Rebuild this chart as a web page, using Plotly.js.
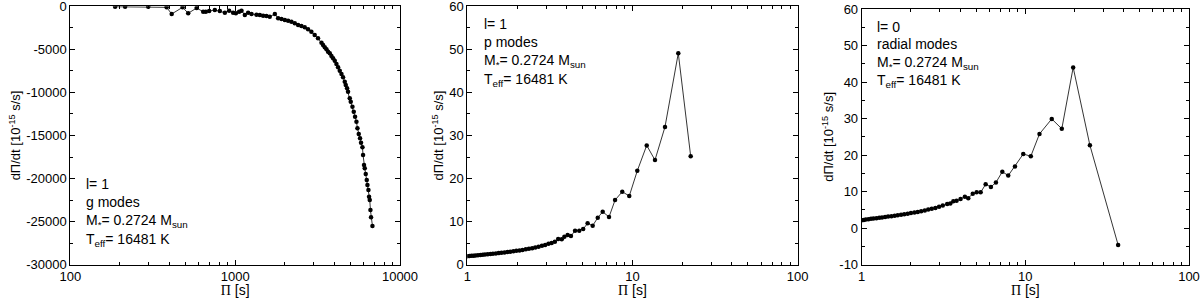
<!DOCTYPE html>
<html><head><meta charset="utf-8">
<script src="https://cdn.plot.ly/plotly-3.0.1.min.js"></script>
<style>html,body{margin:0;padding:0;background:#fff}#chart{width:1200px;height:298px}</style>
</head><body><div id="chart"></div>
<script>
// ---- Data: l=1 g modes ----
const gPeriod=[187,215,297,384,412,480,519,584,640,664,696,753,807,866,919,972,1010,1057,1093,1145,1199,1257,1347,1411,1478,1548,1621,1741,1823,1910,2001,2096,2195,2300,2409,2523,2643,2768,2900,3038,3182,3339,3414,3497,3580,3661,3749,3839,3926,4020,4117,4210,4311,4415,4514,4622,4688,4774,4840,4957,5026,5147,5241,5338,5443,5519,5620,5723,5803,5918,5968,6051,6111,6196,6284,6346,6436,6490,6554,6617,6673,6805];
const gRate=[-50,-50,-50,-120,-890,-120,-810,-200,-630,-630,-550,-430,-550,-740,-510,-740,-810,-630,-510,-1010,-740,-890,-975,-1010,-1090,-1130,-1210,-890,-1390,-1470,-1590,-1670,-1790,-1970,-2170,-2290,-2440,-2670,-2950,-3330,-3720,-4220,-4490,-4760,-4990,-5270,-5460,-5770,-6040,-6320,-6700,-7080,-7480,-7860,-8240,-8750,-9140,-9520,-9910,-10680,-11080,-11660,-12240,-12820,-13400,-14160,-14830,-15330,-15840,-16370,-17260,-18430,-18810,-19470,-20170,-20750,-21330,-22110,-22490,-23650,-24480,-25510];
// ---- Data: l=1 p modes ----
const pPeriod=[1.00,1.03,1.06,1.09,1.12,1.16,1.20,1.24,1.28,1.33,1.38,1.43,1.49,1.55,1.61,1.68,1.75,1.82,1.90,1.98,2.07,2.16,2.26,2.36,2.47,2.58,2.70,2.83,2.96,3.10,3.24,3.39,3.55,3.73,3.87,4.05,4.24,4.49,4.76,5.03,5.35,5.74,6.16,6.60,7.21,7.84,8.67,9.56,10.69,12.19,13.68,15.73,18.93,22.5];
const pRate=[1.95,2.0,2.05,2.1,2.15,2.2,2.25,2.3,2.38,2.43,2.5,2.56,2.62,2.7,2.78,2.85,2.95,3.03,3.12,3.22,3.32,3.43,3.56,3.69,3.83,3.98,4.15,4.38,4.6,4.85,5.05,5.34,5.97,5.9,6.5,6.9,6.66,7.9,7.9,8.3,9.6,9.06,10.9,12.3,11.07,15.0,16.95,15.95,21.8,27.7,24.3,32.0,49.1,25.2];
// ---- Data: l=0 radial modes ----
const rPeriod=[1.00,1.03,1.06,1.10,1.14,1.18,1.23,1.28,1.33,1.39,1.45,1.52,1.59,1.66,1.74,1.82,1.91,2.00,2.10,2.20,2.31,2.43,2.55,2.68,2.82,2.97,3.13,3.33,3.48,3.63,3.80,4.02,4.27,4.48,4.77,5.04,5.33,5.72,6.16,6.61,7.23,7.86,8.64,9.71,10.8,12.2,14.5,16.7,19.6,24.8,36.9];
const rRate=[2.2,2.27,2.35,2.45,2.55,2.65,2.75,2.85,2.95,3.05,3.17,3.28,3.42,3.55,3.68,3.82,3.97,4.12,4.28,4.45,4.65,4.86,5.08,5.3,5.55,5.85,6.2,6.6,6.75,7.36,7.5,8.0,8.6,8.2,9.45,9.8,9.8,12.0,11.3,12.5,15.45,14.4,16.9,20.3,19.7,25.8,29.9,27.2,44.0,22.7,-4.6];
// ---- Tick labels ----
const x1Ticks=[100,1000,10000], x1Text=['100','1000','10000'];
const x23Ticks=[1,10,100], x23Text=['1','10','100'];
const y1Ticks=[-30000,-25000,-20000,-15000,-10000,-5000,0];
const y2Ticks=[0,10,20,30,40,50,60];
const y3Ticks=[-10,0,10,20,30,40,50,60];
const txt=v=>String(v).replace('\u2212','-');

const W=1200,H=298;
const FONT='Liberation Sans, Arial, sans-serif';
function minorLog(a,b){const v=[];for(let d=a;d<b;d*=10){for(let k=2;k<=9;k++)v.push(d*k);}return v;}

const line={color:'black',width:0.8};
const marker={color:'black',size:4.5};
const traces=[
 {x:gPeriod,y:gRate,xaxis:'x',yaxis:'y',mode:'lines+markers',line,marker,showlegend:false,hoverinfo:'skip'},
 {x:pPeriod,y:pRate,xaxis:'x2',yaxis:'y2',mode:'lines+markers',line,marker,showlegend:false,hoverinfo:'skip'},
 {x:rPeriod,y:rRate,xaxis:'x3',yaxis:'y3',mode:'lines+markers',line,marker,showlegend:false,hoverinfo:'skip'}
];

function baseAx(){return {showline:true,linecolor:'black',linewidth:1,mirror:'ticks',ticks:'inside',ticklen:5,tickwidth:1,tickcolor:'black',showgrid:false,zeroline:false,
 ticklabeloverflow:'allow',tickfont:{family:FONT,size:13,color:'black'},fixedrange:true};}
function xAx(dom,anchor,range,tv,tt,minor){return Object.assign(baseAx(),{type:'log',domain:dom,anchor,range,tickmode:'array',tickvals:tv,ticktext:tt,
 minor:{tickmode:'array',tickvals:minor,ticks:'inside',ticklen:3,tickwidth:1,tickcolor:'black',showgrid:false},
 title:{text:'<span style="font-family:Liberation Serif">\u03A0</span> [s]',font:{family:FONT,size:14,color:'black'},standoff:2}});}
function yAx(dom,anchor,range,tv,minorStep){return Object.assign(baseAx(),{domain:dom,anchor,range,tickmode:'array',tickvals:tv,ticktext:tv.map(v=>txt(v)),
 minor:{tickmode:'linear',tick0:0,dtick:minorStep,ticks:'inside',ticklen:3,tickwidth:1,tickcolor:'black',showgrid:false},
 title:{text:'d\u03A0/dt [10<sup>-15</sup> s/s]',font:{family:FONT,size:13,color:'black'},standoff:2}});}

const yb=1-264.7/H;
const layout={
 width:W,height:H,margin:{l:0,r:0,t:0,b:0},paper_bgcolor:'white',plot_bgcolor:'white',
 font:{family:FONT,size:13,color:'black'},
 xaxis:xAx([70.3/W,400/W],'y',[2,4],x1Ticks,x1Text,minorLog(100,10000)),
 yaxis:yAx([yb,1-6.3/H],'x',[-30000,0],y1Ticks,2500),
 xaxis2:xAx([467.3/W,797.7/W],'y2',[0,2],x23Ticks,x23Text,minorLog(1,100)),
 yaxis2:yAx([yb,1-6.3/H],'x2',[0,60],y2Ticks,5),
 xaxis3:xAx([861.7/W,1189/W],'y3',[0,2],x23Ticks,x23Text,minorLog(1,100)),
 yaxis3:yAx([yb,1-9/H],'x3',[-10,60],y3Ticks,5),
 annotations:[]
};
function addLabels(x,ys,lines){lines.forEach((t,i)=>layout.annotations.push({xref:'paper',yref:'paper',x:x/W,y:1-ys[i]/H,xanchor:'left',yanchor:'middle',showarrow:false,text:t,font:{family:FONT,size:14,color:'black'}}));}
const M='M<sub>*</sub>= 0.2724 M<sub>sun</sub>', T='T<sub>eff</sub>= 16481 K';
addLabels(84,[184,202,221,240],['l= 1','g modes',M,T]);
addLabels(482,[24,42,61,80],['l= 1','p modes',M,T]);
addLabels(875,[27,44,63,81],['l= 0','radial modes',M,T]);

Plotly.newPlot('chart',traces,layout,{staticPlot:true,displayModeBar:false});
</script></body></html>
